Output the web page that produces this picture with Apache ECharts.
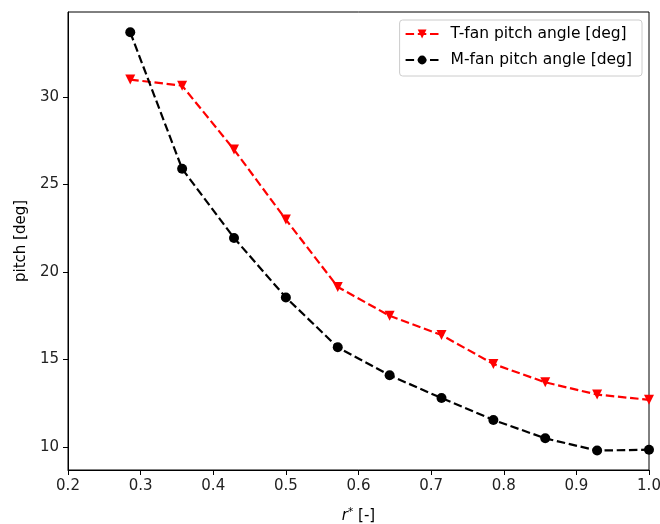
<!DOCTYPE html>
<html>
<head>
<meta charset="utf-8">
<script src="https://cdn.jsdelivr.net/npm/echarts@6/dist/echarts.min.js"></script>
<style>html,body{margin:0;padding:0;background:#fff;}#c{width:660px;height:524px;}</style>
</head>
<body>
<div id="c"></div>
<script>
const rStar = [4/14, 5/14, 6/14, 7/14, 8/14, 9/14, 10/14, 11/14, 12/14, 13/14, 14/14];
const tFan = [31.0, 30.65, 27.0, 23.0, 19.15, 17.5, 16.4, 14.75, 13.7, 13.0, 12.7];
const mFan = [33.7, 25.9, 21.95, 18.55, 15.7, 14.1, 12.8, 11.55, 10.5, 9.8, 9.85];
const xTicks = [0.2, 0.3, 0.4, 0.5, 0.6, 0.7, 0.8, 0.9, 1.0];
const yTicks = [10, 15, 20, 25, 30];
const seriesNames = ['T-fan pitch angle [deg]', 'M-fan pitch angle [deg]'];

const font = 'DejaVu Sans';
const chart = echarts.init(document.getElementById('c'), null, {renderer: 'canvas'});
const pair = (ys) => rStar.map((x, i) => [x, ys[i]]);
const dash = [8.5, 3.7];
chart.setOption({
  animation: false,
  grid: {left: 68, right: 11, top: 12, bottom: 54, show: true, borderColor: '#000', borderWidth: 1,
         containLabel: false, outerBoundsMode: 'none'},
  xAxis: {
    type: 'value', min: 0.2, max: 1.0,
    name: '{i|r}{s|*} [-]', nameLocation: 'middle', nameGap: 37,
    nameTextStyle: {fontFamily: font, fontSize: 15, color: '#000',
      rich: {i: {fontFamily: font, fontStyle: 'italic', fontSize: 15, color: '#000'},
             s: {fontFamily: font, fontSize: 10.5, color: '#000', verticalAlign: 'top', padding: [0,0,7,0]}}},
    axisLine: {show: true, onZero: false, lineStyle: {color: '#000', width: 1}},
    axisTick: {show: true, inside: false, length: 5, customValues: xTicks, lineStyle: {color: '#000'}},
    axisLabel: {customValues: xTicks, fontFamily: font, fontSize: 15, color: '#222', margin: 9,
      formatter: v => v.toFixed(1)},
    splitLine: {show: false}
  },
  yAxis: {
    type: 'value', min: 8.69, max: 34.86,
    name: 'pitch [deg]', nameLocation: 'middle', nameGap: 39,
    nameTextStyle: {fontFamily: font, fontSize: 15, color: '#000'},
    axisLine: {show: true, onZero: false, lineStyle: {color: '#000', width: 1}},
    axisTick: {show: true, inside: false, length: 5, customValues: yTicks, lineStyle: {color: '#000'}},
    axisLabel: {customValues: yTicks, fontFamily: font, fontSize: 15, color: '#222', margin: 9},
    splitLine: {show: false}
  },
  legend: {
    orient: 'vertical', right: 18, top: 20,
    backgroundColor: '#fff', borderColor: '#ccc', borderWidth: 1, borderRadius: 3,
    padding: [6, 10, 8, 5], itemGap: 10, itemWidth: 33, itemHeight: 11,
    textStyle: {fontFamily: font, fontSize: 15.5, color: '#000', padding: [0, 0, 0, 7]},
    data: seriesNames
  },
  series: [
    {name: seriesNames[0], type: 'line', data: pair(tFan), symbol: 'triangle', symbolRotate: 180, symbolSize: 10,
     itemStyle: {color: '#ff0000'}, lineStyle: {color: '#ff0000', width: 2.2, type: dash}, z: 3},
    {name: seriesNames[1], type: 'line', data: pair(mFan), symbol: 'circle', symbolSize: 10,
     itemStyle: {color: '#000'}, lineStyle: {color: '#000', width: 2.2, type: dash}, z: 3}
  ]
});
</script>
</body>
</html>
